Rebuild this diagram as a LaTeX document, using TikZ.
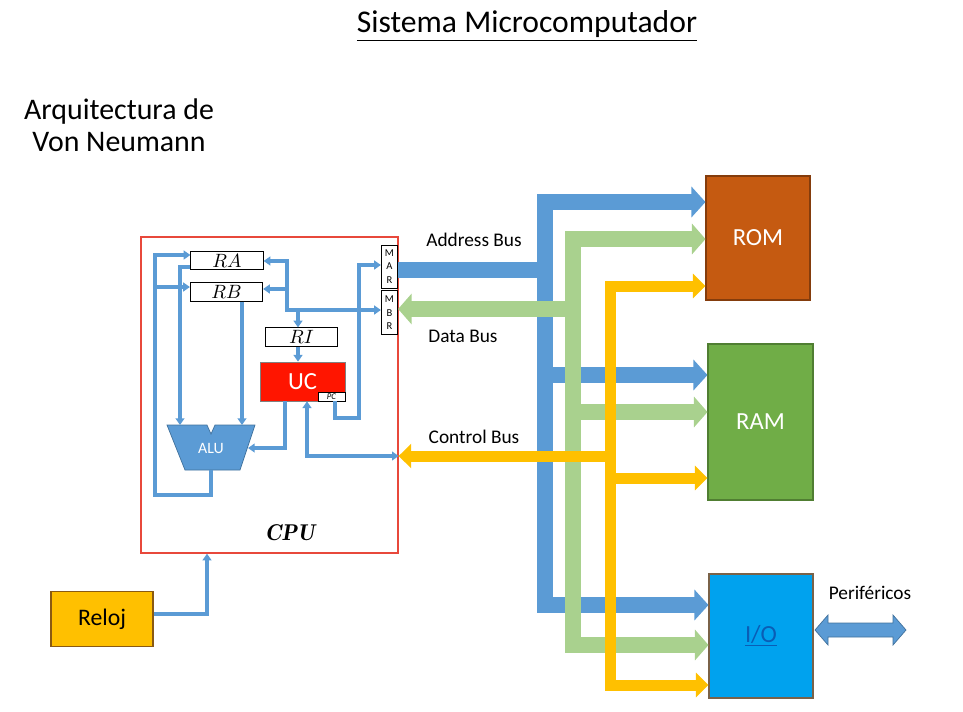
\documentclass[tikz,border=0pt]{standalone}
\usepackage{fontspec}
\setmainfont{Carlito}
\usetikzlibrary{arrows.meta,positioning}
\definecolor{busblue}{HTML}{5B9BD5}
\definecolor{busgreen}{HTML}{A9D18E}
\definecolor{busorange}{HTML}{FFC000}
\definecolor{bluedge}{HTML}{41719C}
\definecolor{cpured}{HTML}{E8483B}
\definecolor{ucred}{HTML}{FF1500}
\definecolor{romfill}{HTML}{C55A11}
\definecolor{romedge}{HTML}{843C0C}
\definecolor{ramfill}{HTML}{70AD47}
\definecolor{ramedge}{HTML}{507E32}
\definecolor{iofill}{HTML}{00A2EE}
\definecolor{ioedge}{HTML}{7A6248}
\definecolor{iotext}{HTML}{0A5DB5}
\definecolor{relojedge}{HTML}{8A5A12}
\tikzset{
  wtip/.tip={Triangle[length=3.8pt,width=5pt]},
  atip/.tip={Triangle[length=0.28cm,width=0.6cm]},
  gtip/.tip={Triangle[length=0.27cm,width=0.6cm]},
  ctip/.tip={Triangle[length=0.25cm,width=0.48cm]}
}
\begin{document}
\begin{tikzpicture}[x=0.02cm,y=-0.02cm,
    reg/.style={draw=black,fill=white,inner sep=0pt,minimum width=1.45cm,minimum height=0.37cm,font=\fontsize{11}{11}\selectfont},
    cpuwire/.style={busblue,line width=2pt},
    abus/.style={busblue,line width=0.32cm},
    dbus/.style={busgreen,line width=0.32cm},
    cbus/.style={busorange,line width=0.22cm},
    mem/.style={minimum width=2.08cm,minimum height=2.48cm,inner sep=0pt,line width=0.6pt,text=white,font=\fontsize{14}{14}\selectfont},
    lbl/.style={font=\fontsize{11}{11}\selectfont}]
  \useasboundingbox (0,0) rectangle (963,711);
  \node[font=\fontsize{18}{18}\selectfont] (title) at (527,26) {\underline{Sistema Microcomputador}};
  \node[align=center,font=\fontsize{17}{18}\selectfont] (arq) at (119,125) {Arquitectura de\\Von Neumann};
  % CPU
  \node[draw=cpured,line width=0.8pt,minimum width=5.14cm,minimum height=6.32cm,inner sep=0pt] (cpu) at (269.5,395) {};
  \node[font=\fontsize{13}{13}\fontfamily{lmr}\selectfont\bfseries\itshape] (cpulbl) at (290,533) {CPU};
  \node[reg] (ra) at (227,260.5) {$RA$};
  \node[reg] (rb) at (226.5,292) {$RB$};
  \node[reg] (ri) at (301.5,337) {$RI$};
  \node[fill=ucred,draw=gray,minimum width=1.7cm,minimum height=0.78cm,inner sep=0pt,text=white,font=\fontsize{14}{14}\selectfont] (uc) at (302.5,381.5) {UC};
  \node[draw=black,fill=white,inner sep=0pt,minimum width=0.54cm,minimum height=0.18cm,font=\fontsize{5}{5}\selectfont\itshape,anchor=south east] (pc) at (uc.south east) {PC};
  \node[reg,minimum width=0.33cm,minimum height=0.86cm,align=center,font=\fontsize{6}{7.5}\selectfont] (mar) at (389.5,266.5) {M\\A\\R};
  \node[reg,minimum width=0.33cm,minimum height=0.88cm,align=center,font=\fontsize{6}{7.5}\selectfont,below=0.04cm of mar] (mbr) {M\\B\\R};
  \draw[draw=bluedge,fill=busblue] (167,425) -- (207,425) -- (211,434) -- (215,425) -- (255,425) -- (240,470) -- (185,470) -- cycle;
  \node[text=white,font=\fontsize{9}{9}\selectfont] (alu) at (211,448) {ALU};
  \coordinate (aluA) at (180,425);
  \coordinate (aluB) at (242,425);
  \coordinate (aluS) at (248,448);
  \coordinate (aluO) at (211,470);
  \draw[cpuwire,-wtip] (aluO) -- (211,495) -- (155,495) -- (155,255) -- (ra.west |- 0,255);
  \draw[cpuwire,-wtip] (155,287) -- (rb.west |- 0,287);
  \draw[cpuwire,-wtip] (ra.west |- 0,267) -- (180,267) -- (aluA);
  \draw[cpuwire,-wtip] (rb.south -| 242,0) -- (aluB);
  \draw[cpuwire,wtip-wtip] (mbr.west |- 0,310) -- (287,310) -- (287,261) -- (ra.east |- 0,261);
  \draw[cpuwire,-wtip] (287,289) -- (rb.east |- 0,289);
  \draw[cpuwire,-wtip] (298,310) -- (ri.north -| 298,0);
  \draw[cpuwire,-wtip] (ri.south -| 298,0) -- (uc.north -| 298,0);
  \draw[cpuwire,-wtip] (pc.south -| 335,0) -- (335,418) -- (359,418) -- (359,265) -- (mar.west |- 0,265);
  \draw[cpuwire,-wtip] (uc.south -| 285,0) -- (285,448) -- (aluS);
  \draw[cpuwire,wtip-wtip] (uc.south -| 307,0) -- (307,456) -- (cpu.east |- 0,456);
  % reloj
  \node[draw=relojedge,fill=busorange,line width=0.8pt,minimum width=2.04cm,minimum height=1.1cm,font=\fontsize{13.5}{14}\selectfont] (reloj) at (102,619) {Reloj};
  \draw[cpuwire,-wtip] (reloj.east |- 0,614) -- (207,614) -- (cpu.south -| 207,0);
  % memorias y E/S
  \node[mem,fill=romfill,draw=romedge] (rom) at (758,238) {ROM};
  \node[mem,fill=ramfill,draw=ramedge,minimum width=2.1cm,minimum height=3.12cm] (ram) at (760.5,422) {RAM};
  \node[mem,fill=iofill,draw=ioedge,text=iotext] (io) at (761,636) {\underline{I/O}};
  % buses
  \draw[abus] (mar.east |- 0,270) -- (545,270);
  \draw[abus,atip-atip,line join=miter] (io.west |- 0,605) -- (545,605) -- (545,202) -- (rom.west |- 0,202);
  \draw[abus,-atip] (545,375) -- (ram.west |- 0,375);
  \draw[dbus,gtip-gtip,line join=miter] (io.west |- 0,645) -- (573,645) -- (573,239) -- (rom.west |- 0,239);
  \draw[dbus,-gtip] (573,412) -- (ram.west |- 0,412);
  \draw[dbus,-gtip] (573,309) -- (mbr.east |- 0,309);
  \draw[cbus,ctip-ctip,line join=miter] (io.west |- 0,685) -- (610,685) -- (610,286) -- (rom.west |- 0,286);
  \draw[cbus,-ctip] (610,478) -- (ram.west |- 0,478);
  \draw[cbus,-ctip] (610,456) -- (cpu.east |- 0,456);
  \node[lbl] (abl) at (474,240) {Address Bus};
  \node[lbl] (dbl) at (463,336) {Data Bus};
  \node[lbl] (cbl) at (474,437) {Control Bus};
  % perifericos
  \draw[draw=bluedge,fill=busblue] (815,630) -- (828,615) -- (828,623) -- (893,623) -- (893,615) -- (906,630) -- (893,645) -- (893,637) -- (828,637) -- (828,645) -- cycle;
  \node[lbl] (perl) at (870,593) {Periféricos};
\end{tikzpicture}
\end{document}
